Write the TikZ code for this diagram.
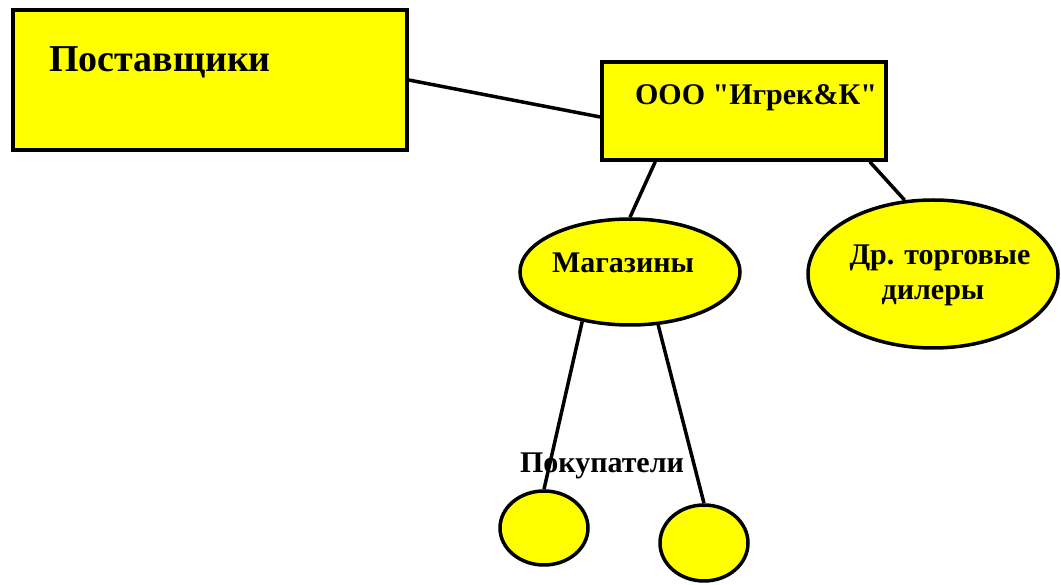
\documentclass[tikz,border=0pt]{standalone}
\usepackage{fontspec}
\setmainfont{Liberation Serif}[Ligatures=TeXOff]
\usetikzlibrary{shapes.geometric}
\definecolor{boxyellow}{RGB}{255,255,0}
\tikzset{
  box/.style={draw=black, line width=3.5pt, fill=boxyellow, rectangle, inner sep=0pt},
  oval/.style={draw=black, line width=3.5pt, fill=boxyellow, ellipse, inner sep=0pt},
  link/.style={draw=black, line width=3.5pt},
  lbl/.style={anchor=base, inner sep=0pt, font=\bfseries},
  small/.style={font=\bfseries\fontsize{30}{34}\selectfont}
}
\begin{document}
\begin{tikzpicture}[x=1pt, y=-1pt]
\useasboundingbox (0,0) rectangle (1061,585);
% shapes
\node[box, minimum width=394pt, minimum height=140pt] (sup) at (210,80) {};
\node[box, minimum width=284pt, minimum height=98pt] (ooo) at (744,111) {};
\node[oval, minimum width=220pt, minimum height=106pt] (mag) at (630,272) {};
\node[oval, minimum width=250pt, minimum height=148pt] (dr) at (933,274) {};
\node[oval, minimum width=88pt, minimum height=74pt] (pl) at (544,528) {};
\node[oval, minimum width=88pt, minimum height=76pt] (pr) at (704,543) {};
% connectors
\draw[link] (sup.east) -- ([yshift=-6pt]ooo.west);
\draw[link] ([xshift=55pt]ooo.south west) -- (mag.north);
\draw[link] ([xshift=-18pt]ooo.south east) -- (dr.111);
\draw[link] (mag.226) -- (pl.north);
\draw[link] (mag.298) -- (pr.north);
% texts
\node[lbl, font=\bfseries\fontsize{38}{40}\selectfont] (tsup) at (160,72) {Поставщики};
\node[lbl, small] (tooo) at (756,105) {ООО "Игрек\&К"};
\node[lbl, small] (tmag) at (623,273) {Магазины};
\node[lbl, small] (tdr1) at (940,265) {Др. торговые};
\node[lbl, small] (tdr2) at (933,300) {дилеры};
\node[lbl, small] (tpok) at (602,472) {Покупатели};
\end{tikzpicture}
\end{document}
